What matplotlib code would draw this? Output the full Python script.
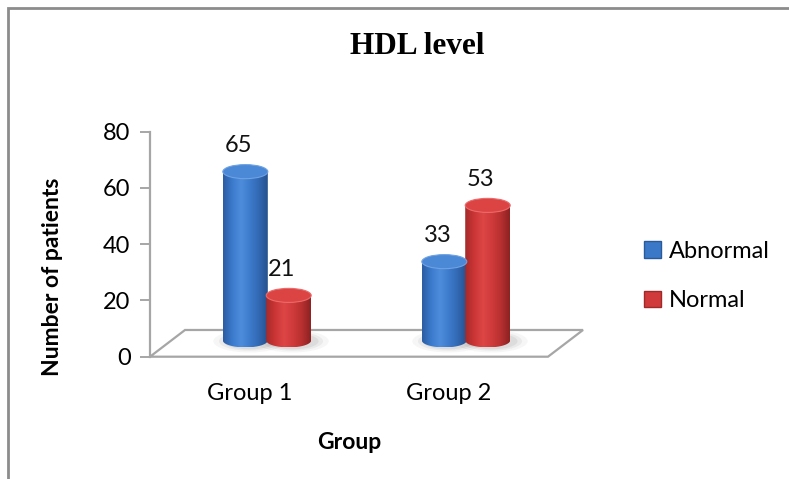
import numpy as np
import matplotlib.pyplot as plt
from matplotlib.colors import LinearSegmentedColormap
from matplotlib.patches import Polygon, Ellipse, Patch, Rectangle

# HDL level counts per group
groups = ['Group 1', 'Group 2']
series = ['Abnormal', 'Normal']
abnormal = [65, 33]
normal = [21, 53]
yticks = [0, 20, 40, 60, 80]

plt.rcParams['font.family'] = ['Lato', 'DejaVu Sans']

fig = plt.figure(figsize=(7.89, 4.79), dpi=100)
fig.patch.set_facecolor('white')

# outer chart frame
fig.patches.append(Rectangle((8 / 789, -0.1), 1.2, (479 - 8) / 479 + 0.1,
                             transform=fig.transFigure, fill=False,
                             edgecolor='#8c8c8c', lw=2))

ax = fig.add_axes([150 / 789, (479 - 356.7) / 479, 398 / 789, 225 / 479])
ax.set_facecolor('none')

# 3d look: floor depth and cylinder sizes in data units
dx, dy = 0.176, 9.5
w, ry, lift = 0.226, 2.5, 3.3

floor = Polygon([(0, 0), (2, 0), (2 + dx, dy), (dx, dy)], closed=True,
                facecolor='white', edgecolor='#a6a6a6', lw=1.6,
                clip_on=False, zorder=1)
ax.add_patch(floor)

cmaps = {
    'Abnormal': LinearSegmentedColormap.from_list(
        'ab', ['#2c5ea2', '#3b7acc', '#4e8ddc', '#3d7bcc', '#3269b3', '#26518e']),
    'Normal': LinearSegmentedColormap.from_list(
        'no', ['#a52a2a', '#cc3535', '#de4646', '#d03a3a', '#b83030', '#8e2222']),
}
tops = {'Abnormal': ('#4b88d6', '#6fa2e2'), 'Normal': ('#dc4444', '#ea6a6a')}

grad = np.linspace(0, 1, 64).reshape(1, -1)
t = np.linspace(np.pi, 2 * np.pi, 40)


def cylinder(cx, v, name):
    yb = lift + ry
    yt = lift + v - ry
    # soft shadow on the floor
    for k, a in zip([1.6, 1.35, 1.15], [0.05, 0.07, 0.09]):
        ax.add_patch(Ellipse((cx + 0.02, yb - 0.3), w * k, 2 * ry * k,
                             facecolor='#555555', edgecolor='none', alpha=a,
                             zorder=2, clip_on=False))
    arc_x = cx + w / 2 * np.cos(t)
    arc_y = yb + ry * np.sin(t)
    pts = [(cx - w / 2, yt)] + list(zip(arc_x, arc_y)) + [(cx + w / 2, yt)]
    body = Polygon(pts, closed=True, facecolor='none', edgecolor='none')
    ax.add_patch(body)
    im = ax.imshow(grad, cmap=cmaps[name], aspect='auto', interpolation='bicubic',
                   extent=(cx - w / 2, cx + w / 2, lift, yt), zorder=3)
    im.set_clip_path(body)
    fc, ec = tops[name]
    ax.add_patch(Ellipse((cx, yt), w, 2 * ry, facecolor=fc, edgecolor=ec,
                         lw=0.8, zorder=4))
    ax.text(cx - 0.035, lift + v + 3.0, str(v), ha='center', va='bottom',
            fontsize=17, color='#111111', zorder=5)


for i in range(len(groups)):
    c = i + 0.5 + dx / 2
    cylinder(c - 0.109, abnormal[i], 'Abnormal')
    cylinder(c + 0.109, normal[i], 'Normal')

ax.set_xlim(0, 2)
ax.set_ylim(0, 80)

for s in ['top', 'right', 'bottom']:
    ax.spines[s].set_visible(False)
ax.spines['left'].set_color('#a6a6a6')
ax.spines['left'].set_linewidth(1.6)
ax.spines['left'].set_bounds(0, 80)
ax.set_yticks(yticks)
ax.tick_params(axis='y', direction='out', length=7, width=1.4, color='#a6a6a6',
               labelsize=17, pad=7)
ax.set_xticks([0.5, 1.5])
ax.set_xticklabels(groups, fontsize=17)
ax.tick_params(axis='x', length=0, pad=19)

ax.set_xlabel('Group', fontsize=16.5, fontweight='bold', labelpad=20)
ax.set_ylabel('Number of patients', fontsize=16.5, fontweight='bold')
ax.yaxis.set_label_coords(-0.218, 0.354)

fig.text(417 / 789, 1 - 47 / 479, 'HDL level', ha='center', va='center',
         fontsize=22.5, fontweight='bold', family='Liberation Serif')

handles = [Patch(facecolor='#3b78c8', edgecolor='#2a5a9a'),
           Patch(facecolor='#d03a3a', edgecolor='#9e2a2a')]
fig.legend(handles, series, loc='center left',
           bbox_to_anchor=(644 / 789, 1 - 276 / 479), frameon=False,
           borderpad=0, borderaxespad=0,
           fontsize=17, handlelength=0.7, handleheight=0.7,
           handletextpad=0.35, labelspacing=1.2)

fig.savefig('out.png', dpi=100)
